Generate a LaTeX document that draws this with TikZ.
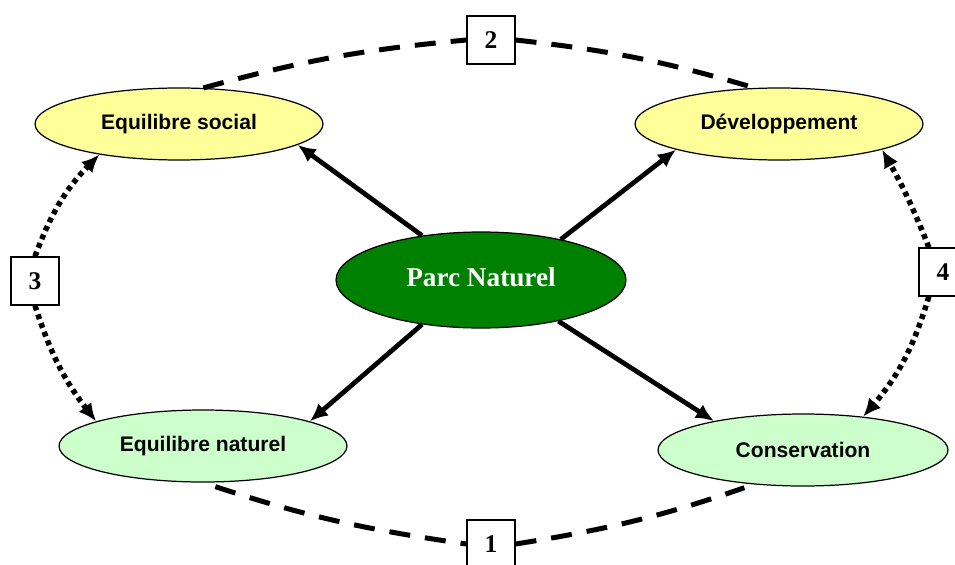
\documentclass[tikz,border=0pt]{standalone}
\usepackage{fontspec}
\setmainfont{Liberation Serif}
\setsansfont{Liberation Sans}
\usetikzlibrary{shapes.geometric,arrows.meta}
\definecolor{socyellow}{HTML}{FFFF99}
\definecolor{natgreen}{HTML}{CCFFCC}
\definecolor{parcgreen}{HTML}{008000}

\begin{document}
\begin{tikzpicture}[x=0.02cm,y=-0.02cm,
  goal/.style={draw,ellipse,line width=0.7pt,minimum width=5.76cm,minimum height=1.44cm,inner sep=0pt,font=\sffamily\bfseries\fontsize{12}{14}\selectfont},
  num/.style={draw,fill=white,line width=0.7pt,minimum size=0.96cm,inner sep=0pt,font=\bfseries\fontsize{14.5}{16}\selectfont},
  act/.style={line width=0.095cm,-{Latex[length=0.36cm,width=0.32cm]}},
  rel/.style={line width=0.11cm,dash pattern=on 0.1cm off 0.085cm,-{Latex[length=0.36cm,width=0.32cm]}},
  link/.style={line width=0.1cm,dash pattern=on 0.42cm off 0.3cm}]
\useasboundingbox (0,0) rectangle (955,564);

\node[goal,fill=socyellow] (social) at (179,124) {Equilibre social};
\node[goal,fill=socyellow] (dev) at (779,124) {Développement};
\node[goal,fill=natgreen] (nat) at (203,446) {Equilibre naturel};
\node[goal,fill=natgreen,minimum width=5.8cm] (cons) at (803,450) {Conservation};
\node[draw,ellipse,fill=parcgreen,text=white,line width=0.7pt,minimum width=5.8cm,minimum height=1.92cm,
  font=\bfseries\fontsize{15.5}{18}\selectfont] (parc) at (481,280) {\raisebox{0.12cm}{Parc Naturel}};

\node[num] (B1) at (491,544) {1};
\node[num] (B2) at (491,40) {2};
\node[num] (B3) at (35,281) {3};
\node[num] (B4) at (943,272) {4};

% from the park to the four goals
\foreach \a/\b in {143/social.-10,27/dev.194,217/nat.13,-28/cons.162} {
  \draw[act] (parc.\a) -- (\b);
}

% dashed links through boxes 1 and 2
\draw[link] (social.56) to[bend left=5] (B2.west);
\draw[link] (B2.east) to[bend left=5] (dev.124);
\draw[link,shorten <=0.26cm] (nat.south) to[bend right=5] (B1.west);
\draw[link,shorten >=0.2cm] (B1.east) to[bend right=5] (cons.215);

% dotted links through boxes 3 and 4
\draw[rel] (B3.north) to[bend left=12] (social.201);
\draw[rel] (B3.south) to[bend right=10] (nat.167);
\draw[rel] (B4.120) to[bend right=4] (dev.-14);
\draw[rel] (B4.240) to[bend left=12] (cons.29);
\end{tikzpicture}
\end{document}
